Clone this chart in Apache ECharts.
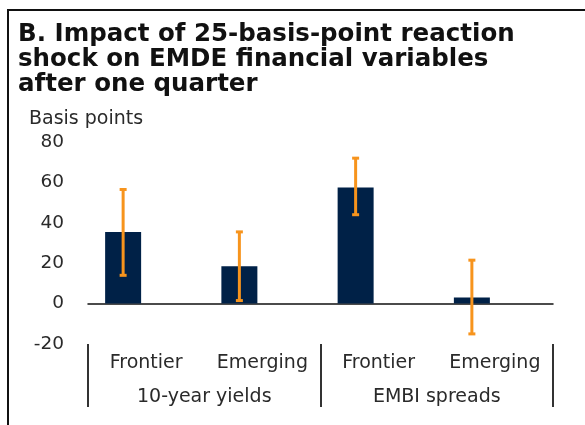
<!DOCTYPE html>
<html>
<head>
<meta charset="utf-8">
<script src="https://cdn.jsdelivr.net/npm/echarts@6/dist/echarts.min.js"></script>
<style>
  html, body { margin: 0; padding: 0; background: #fff; }
  #chart { width: 585px; height: 425px; }
</style>
</head>
<body>
<div id="chart"></div>
<script>
// data
var categories = ['Frontier', 'Emerging', 'Frontier', 'Emerging'];
var groups = ['10-year yields', 'EMBI spreads'];
var impact = [35.5, 18.5, 57.5, 3];
var lowerBand = [14, 1.5, 44, -15];
var upperBand = [56.5, 35.5, 72, 21.5];
var yTicks = { min: -20, max: 80, step: 20 };

var NAVY = '#002147';
var ORANGE = '#f7941d';
var TEXT = '#2a2a2a';
var FONT = 'DejaVu Sans';
var BAR_W = 36;
var GAP = 10;
// bars sit left of the category centre (an empty partner series takes the right slot)
var shift = -(BAR_W + GAP) / 2;

var chartDom = document.getElementById('chart');
var myChart = echarts.init(chartDom);
var option;

option = {
  animation: false,
  title: [
    {
      text: 'B. Impact of 25-basis-point reaction\nshock on EMDE financial variables\nafter one quarter',
      left: 13,
      top: 17,
      textStyle: { fontFamily: FONT, fontWeight: 'bold', fontSize: 24.5, lineHeight: 25, color: '#111' }
    },
    {
      text: 'Basis points',
      left: 24,
      top: 105,
      textStyle: { fontFamily: FONT, fontWeight: 'normal', fontSize: 19, color: TEXT }
    }
  ],
  graphic: [
    {
      type: 'polyline',
      shape: { points: [[8, 425], [8, 10], [585, 10]] },
      style: { stroke: '#111', lineWidth: 2, fill: null },
      silent: true
    }
  ],
  grid: { left: 88, right: 32, top: 142, bottom: 81 },
  xAxis: [
    {
      type: 'category',
      data: categories,
      axisLine: { onZero: true, lineStyle: { color: '#111', width: 1.5 } },
      axisTick: { show: false },
      axisLabel: { show: false }
    },
    {
      type: 'category',
      data: categories,
      position: 'bottom',
      axisLine: { show: false, onZero: false },
      axisTick: { show: false },
      axisLabel: { interval: 0, margin: 10, fontFamily: FONT, fontSize: 19, color: TEXT }
    },
    {
      type: 'category',
      data: groups,
      position: 'bottom',
      axisLine: { show: false, onZero: false },
      axisTick: { show: true, length: 63, lineStyle: { color: '#333', width: 2 } },
      axisLabel: { interval: 0, margin: 44, fontFamily: FONT, fontSize: 19, color: TEXT }
    }
  ],
  yAxis: {
    type: 'value',
    min: yTicks.min,
    max: yTicks.max,
    interval: yTicks.step,
    axisLine: { show: false },
    axisTick: { show: false },
    splitLine: { show: false },
    axisLabel: { margin: 24, fontFamily: FONT, fontSize: 18.5, color: TEXT }
  },
  series: [
    {
      type: 'bar',
      xAxisIndex: 0,
      data: impact,
      barWidth: BAR_W,
      barGap: (GAP / BAR_W * 100) + '%',
      itemStyle: { color: NAVY }
    },
    {
      // empty partner series, only takes the right-hand slot
      type: 'bar',
      xAxisIndex: 0,
      data: categories.map(function () { return null; }),
      barWidth: BAR_W,
      silent: true
    },
    {
      type: 'custom',
      xAxisIndex: 0,
      z: 5,
      data: categories.map(function (c, i) { return [i, lowerBand[i], upperBand[i]]; }),
      encode: { x: 0, y: [1, 2] },
      renderItem: function (params, api) {
        var idx = api.value(0);
        var hi = api.coord([idx, api.value(2)]);
        var lo = api.coord([idx, api.value(1)]);
        var x = hi[0] + shift;
        var st = { stroke: ORANGE, lineWidth: 3 };
        return {
          type: 'group',
          children: [
            { type: 'line', shape: { x1: x, y1: hi[1], x2: x, y2: lo[1] }, style: st },
            { type: 'line', shape: { x1: x - 3.5, y1: hi[1], x2: x + 3.5, y2: hi[1] }, style: st },
            { type: 'line', shape: { x1: x - 3.5, y1: lo[1], x2: x + 3.5, y2: lo[1] }, style: st }
          ]
        };
      }
    }
  ]
};

option && myChart.setOption(option);
</script>
</body>
</html>
